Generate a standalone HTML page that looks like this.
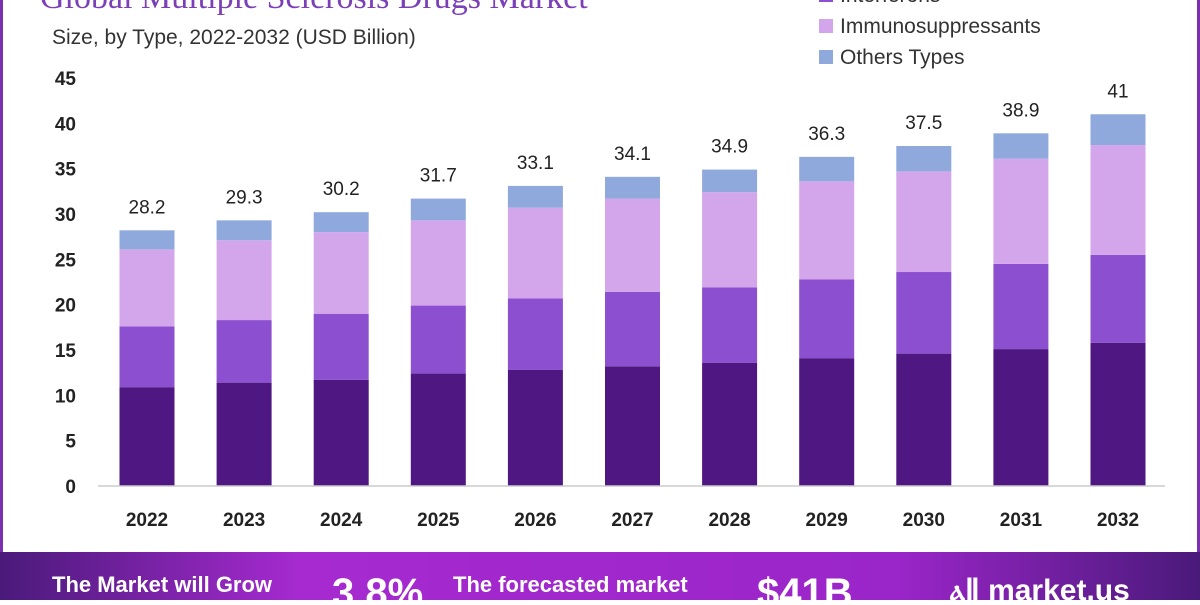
<!DOCTYPE html>
<html><head><meta charset="utf-8"><style>
body{margin:0;width:1200px;height:600px;overflow:hidden;background:#fff;font-family:"Liberation Sans",sans-serif;}
#wrap{position:relative;width:1200px;height:600px;}
</style></head><body>
<div id="wrap">
<svg id="chart" width="1200" height="600">
<defs>
<linearGradient id="bg" x1="0" x2="1" y1="0" y2="0">
<stop offset="0" stop-color="#4a1a7a"/><stop offset="0.25" stop-color="#a62ad0"/><stop offset="0.75" stop-color="#9a25c8"/><stop offset="1" stop-color="#4a1a7a"/>
</linearGradient>
</defs>
<rect x="0" y="0" width="3" height="552" fill="#7a2fb0"/>
<rect x="1197" y="0" width="3" height="552" fill="#7a2fb0"/>
<text x="40" y="8" font-family="Liberation Serif,serif" font-size="34" fill="#7b3fb8">Global Multiple Sclerosis Drugs Market</text>
<text x="52" y="44" font-size="21" fill="#333">Size, by Type, 2022-2032 (USD Billion)</text>
<g id="legend"></g>
<g id="yaxis"></g>
<g id="bars"></g>
<line x1="98" x2="1165" y1="486" y2="486" stroke="#ccc" stroke-width="1.5"/>
<rect x="0" y="552" width="1200" height="48" fill="url(#bg)"/>
<text x="52" y="592" font-size="22" font-weight="bold" fill="#fff">The Market will Grow</text>
<text x="332" y="606" font-size="40" font-weight="bold" fill="#fff">3.8%</text>
<text x="453" y="592" font-size="22" font-weight="bold" fill="#fff">The forecasted market</text>
<text x="757" y="606" font-size="40" font-weight="bold" fill="#fff">$41B</text>
<text x="950" y="600" font-size="30" font-weight="bold" fill="#fff">ⲁⅡ market.us</text>
</svg>
</div>
<script>
const years=["2022","2023","2024","2025","2026","2027","2028","2029","2030","2031","2032"];
const totals=[28.2,29.3,30.2,31.7,33.1,34.1,34.9,36.3,37.5,38.9,41];
const monoclonal=[10.9,11.4,11.7,12.4,12.8,13.2,13.6,14.1,14.6,15.1,15.8];
const interferons=[6.7,6.9,7.3,7.5,7.9,8.2,8.3,8.7,9.0,9.4,9.7];
const immuno=[8.5,8.8,9.0,9.4,10.0,10.3,10.5,10.8,11.1,11.6,12.1];
const yTicks=[0,5,10,15,20,25,30,35,40,45];
const seriesNames=["Interferons","Immunosuppressants","Others Types"];
const NS="http://www.w3.org/2000/svg";
const y0=486,k=408/45;
function yS(v){return y0-v*k;}
function xS(i){return 147+i*97.1;}
function mk(tag,attrs,parent){const e=document.createElementNS(NS,tag);for(const a in attrs)e.setAttribute(a,attrs[a]);parent.appendChild(e);return e;}
const yax=document.getElementById('yaxis');
yTicks.forEach(t=>{const e=mk('text',{x:76,y:yS(t)+7,'text-anchor':'end','font-size':19,'font-weight':'bold',fill:'#222'},yax);


e.textContent=t;});
const bars=document.getElementById('bars');
const cols=["#4e1782","#8b4fcf","#d3a6ec","#8fa9dd"];
const segNames=["monoclonal","interferons","immunosuppressants","others"];
years.forEach((yr,i)=>{
 const others=totals[i]-monoclonal[i]-interferons[i]-immuno[i];
 const vals=[monoclonal[i],interferons[i],immuno[i],others];
 let acc=0;const w=55,x=xS(i)-w/2;
 vals.forEach((v,j)=>{const r=mk('rect',{x:x,y:yS(acc+v),width:w,height:v*k,fill:cols[j]},bars);
  
  
  acc+=v;});
 const t=mk('text',{x:xS(i),y:yS(totals[i])-17,'text-anchor':'middle','font-size':19,fill:'#222'},bars);
 
 
 t.textContent=totals[i];
 const xl=mk('text',{x:xS(i),y:526,'text-anchor':'middle','font-size':19,'font-weight':'bold',fill:'#222'},bars);
 
 
 xl.textContent=yr;
});
const lg=document.getElementById('legend');
seriesNames.forEach((n,j)=>{const yy=-3+j*31;
 const r=mk('rect',{x:819,y:yy-9,width:14,height:14,fill:cols[j+1]},lg);
 
 
 const t=mk('text',{x:840,y:yy+5,'font-size':21,fill:'#333'},lg);
 
 
 t.textContent=n;});
</script>
</body></html>
